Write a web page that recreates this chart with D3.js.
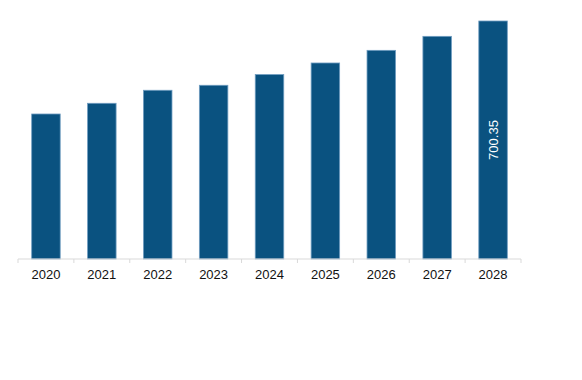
<!DOCTYPE html>
<html>
<head>
  <meta charset="utf-8">
  <title>Bar chart 2020-2028</title>
  <script src="https://cdn.jsdelivr.net/npm/d3@7/dist/d3.min.js"></script>
  <style>
    body { margin: 0; background: #fff; }
    svg text { font-family: 'Liberation Sans', Arial, sans-serif; }
  </style>
</head>
<body>
  <svg id="chart" width="582" height="380"></svg>

  <script>
    var years = ['2020', '2021', '2022', '2023', '2024', '2025', '2026', '2027', '2028'];
    var values = [426.7, 458.2, 496.5, 511.2, 542.7, 576.8, 614.0, 655.2, 700.35];
    var labels = ['', '', '', '', '', '', '', '', '700.35'];

    var svg = d3.select('#chart'),
      margin = { top: 21, left: 18, right: 61, bottom: 121 },
      width = +svg.attr('width') - margin.left - margin.right,
      height = +svg.attr('height') - margin.top - margin.bottom,
      g = svg.append('g').attr('transform', 'translate(' + margin.left + ',' + margin.top + ')');

    var x = d3.scaleBand()
      .domain(years)
      .range([0, width])
      .paddingInner(0.49)
      .paddingOuter(0.245);

    var y = d3.scaleLinear()
      .domain([0, d3.max(values)])
      .range([height, 0]);

    var data = years.map((d, i) => ({ year: d, value: values[i], label: labels[i] }));

    // bars
    g.selectAll('rect.bar')
      .data(data)
      .enter().append('rect')
      .attr('class', 'bar')
      .attr('x', d => x(d.year))
      .attr('y', d => y(d.value))
      .attr('width', x.bandwidth())
      .attr('height', d => height - y(d.value))
      .attr('fill', '#0a5280')
      .attr('stroke', '#6f9cc0')
      .attr('stroke-width', 0.8);

    // x axis: labels centred under bars, ticks at band edges
    var axis = g.append('g')
      .attr('transform', 'translate(0,' + height + ')');

    axis.append('line')
      .attr('x1', 0)
      .attr('x2', width)
      .attr('stroke', '#d9d9d9');

    var step = x.step();
    var edges = years.map(d => x(d) - step * x.paddingInner() / 2);
    edges.push(edges[edges.length - 1] + step);

    axis.selectAll('line.tick')
      .data(edges)
      .enter().append('line')
      .attr('class', 'tick')
      .attr('x1', d => d)
      .attr('x2', d => d)
      .attr('y1', 0)
      .attr('y2', 4)
      .attr('stroke', '#d9d9d9');

    axis.selectAll('text')
      .data(years)
      .enter().append('text')
      .attr('x', d => x(d) + x.bandwidth() / 2)
      .attr('y', 15)
      .attr('dy', '0.35em')
      .attr('text-anchor', 'middle')
      .attr('fill', '#111')
      .style('font-size', '13px')
      .text(d => d);

    // value label inside the last bar
    g.selectAll('text.value')
      .data(data.filter(d => d.label))
      .enter().append('text')
      .attr('class', 'value')
      .attr('transform', d => 'translate(' + (x(d.year) + x.bandwidth() / 2) + ',' + ((y(d.value) + height) / 2) + ') rotate(-90)')
      .attr('text-anchor', 'middle')
      .attr('dy', '0.35em')
      .attr('fill', '#fff')
      .style('font-size', '13px')
      .text(d => d.label);
  </script>
</body>
</html>
